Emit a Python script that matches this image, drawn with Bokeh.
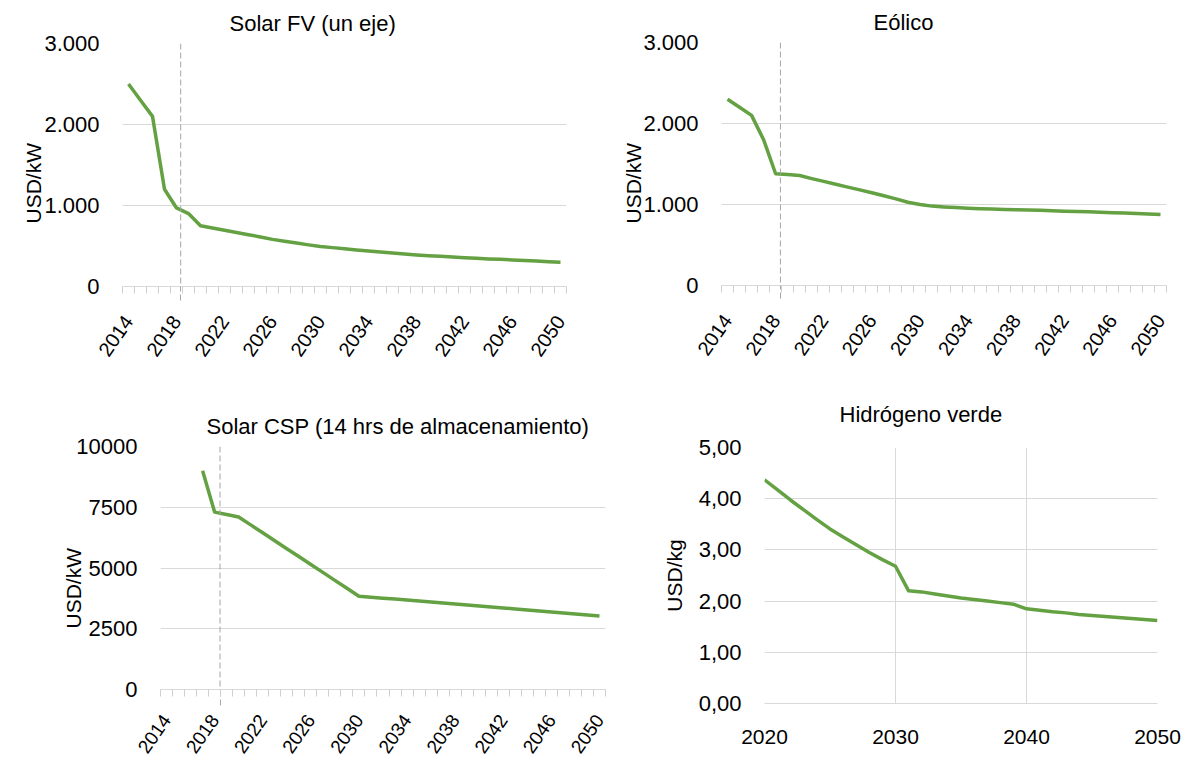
from math import pi
from bokeh.plotting import figure
from bokeh.layouts import column, row
from bokeh.models import FixedTicker, Range1d, Span, Title, LinearAxis
from bokeh.embed import file_html
from bokeh.resources import INLINE

# ---------------- data ----------------
years = list(range(2014, 2051))
solar_fv = [2500, 2300, 2100, 1200, 970, 900, 750, 722, 694, 666, 640, 612, 582, 558,
            536, 514, 495, 480, 466, 452, 438, 425, 413, 402, 390, 381, 372, 363, 355,
            348, 341, 335, 328, 321, 314, 307, 300]
eolico = [2300, 2200, 2100, 1800, 1380, 1370, 1358, 1320, 1285, 1250, 1215, 1180, 1145,
          1108, 1070, 1028, 1000, 980, 970, 962, 955, 948, 943, 938, 935, 933, 928, 922,
          917, 914, 910, 905, 899, 894, 889, 884, 878]
csp_years = list(range(2017, 2051))
csp = [9000, 7300, 7200, 7100, 6775, 6450, 6120, 5795, 5470, 5145, 4820, 4490, 4165,
       3840, 3800, 3760, 3720, 3680, 3640, 3600, 3555, 3515, 3475, 3435, 3395, 3355,
       3315, 3270, 3230, 3190, 3150, 3105, 3065, 3020]
h2_years = list(range(2020, 2051))
h2 = [4.37, 4.17, 3.97, 3.78, 3.59, 3.41, 3.25, 3.10, 2.95, 2.81, 2.68, 2.20, 2.18,
      2.14, 2.10, 2.06, 2.03, 2.00, 1.97, 1.94, 1.85, 1.82, 1.79, 1.77, 1.74, 1.72,
      1.70, 1.68, 1.66, 1.64, 1.62]

cat_tick_years = list(range(2014, 2051, 4))
cat_tick_labels = [str(y) for y in cat_tick_years]
kw_ticks = [0, 1000, 2000, 3000]
kw_labels = ["0", "1.000", "2.000", "3.000"]
csp_ticks = [0, 2500, 5000, 7500, 10000]
csp_labels = ["0", "2500", "5000", "7500", "10000"]
h2_yticks = [0, 1, 2, 3, 4, 5]
h2_ylabels = ["0,00", "1,00", "2,00", "3,00", "4,00", "5,00"]
h2_xticks = [2020, 2030, 2040, 2050]
h2_xlabels = ["2020", "2030", "2040", "2050"]
marker_year = [2018.35, 2018.4, 2018.45]

titles = ["Solar FV (un eje)", "Eólico", "Solar CSP (14 hrs de almacenamiento)", "Hidrógeno verde"]
ylabels = ["USD/kW", "USD/kW", "USD/kW", "USD/kg"]

# ---------------- style ----------------
FONT = "Liberation Sans"
GREEN = "#64A142"
GRID = "#d9d9d9"
DASH = "#a6a6a6"
TXT = "#000000"


def make_fig(w, h, bl, br, bt, bb, xr, yr):
    p = figure(width=w, height=h, x_range=xr, y_range=yr, output_backend="svg",
               toolbar_location=None, min_border_left=bl, min_border_right=br,
               min_border_top=bt, min_border_bottom=bb)
    try:
        p.frame_align = False
    except Exception:
        pass
    p.outline_line_color = None
    p.background_fill_color = "white"
    p.border_fill_color = "white"
    return p


def style_y(p, ticks, labels):
    ax = p.yaxis[0]
    ax.ticker = FixedTicker(ticks=ticks, minor_ticks=[])
    ax.major_label_overrides = dict(zip(ticks, labels))
    ax.axis_line_color = None
    ax.major_tick_line_color = None
    ax.minor_tick_line_color = None
    ax.major_tick_out = 0
    ax.major_tick_in = 0
    ax.major_label_standoff = 23
    ax.major_label_text_font = FONT
    ax.major_label_text_font_size = "22px"
    ax.major_label_text_color = TXT
    p.ygrid.ticker = FixedTicker(ticks=ticks, minor_ticks=[])
    p.ygrid.grid_line_color = GRID
    p.ygrid.grid_line_width = 1


def style_cat_x(p, xm, dash_out, offset, font_size):
    # axis 1: axis line, category boundary ticks, dashed marker tick
    ax = p.xaxis[0]
    minor = [y - 0.5 for y in years] + [years[-1] + 0.5]
    ax.ticker = FixedTicker(ticks=[xm], minor_ticks=minor)
    ax.major_label_overrides = {xm: ""}
    ax.axis_line_color = GRID
    ax.major_tick_line_color = DASH
    ax.major_tick_line_dash = "6 3"
    ax.major_tick_out = dash_out
    ax.major_tick_in = 0
    ax.minor_tick_line_color = "#cfcfcf"
    ax.minor_tick_out = 7
    ax.minor_tick_in = 0
    ax.major_label_standoff = 0
    ax.major_label_text_font_size = "0px"
    # axis 2: rotated year labels
    lab = LinearAxis(ticker=FixedTicker(ticks=cat_tick_years, minor_ticks=[]),
                     major_label_overrides=dict(zip(cat_tick_years, cat_tick_labels)),
                     axis_line_color=None, major_tick_line_color=None,
                     minor_tick_line_color=None, major_tick_out=0, major_tick_in=0,
                     major_label_orientation=0.96, major_label_standoff=offset - dash_out,
                     major_label_text_font=FONT, major_label_text_font_size=font_size,
                     major_label_text_color=TXT)
    p.add_layout(lab, "below")
    p.xgrid.visible = False
    p.add_layout(Span(location=xm, dimension="height", line_color=DASH,
                      line_width=1, line_dash="6 3"))


def add_texts(p, title, t_off, t_stand, ylab, l_align, l_off, l_stand):
    p.title.text = title
    p.title.align = "left"
    p.title.offset = t_off
    p.title.standoff = t_stand
    p.title.text_font = FONT
    p.title.text_font_size = "22px"
    p.title.text_font_style = "normal"
    p.title.text_color = TXT
    p.add_layout(Title(text=ylab, align=l_align, offset=l_off, standoff=l_stand,
                       text_font=FONT, text_font_size="21px", text_font_style="normal",
                       text_color=TXT), "left")


# ---- panel 1: Solar FV ----
p1 = make_fig(607, 370, 122, 41, 43, 84, Range1d(2013.5, 2050.5), Range1d(0, 3000))
style_y(p1, kw_ticks, kw_labels)
style_cat_x(p1, marker_year[0], 14, 31, "20px")
p1.line(years, solar_fv, line_color=GREEN, line_width=3.5, line_join="round")
add_texts(p1, titles[0], 107, 16, ylabels[0], "left", 63, -7)

# ---- panel 2: Eolico ----
p2 = make_fig(585, 370, 114, 26, 42, 85, Range1d(2013.5, 2050.5), Range1d(0, 3000))
style_y(p2, kw_ticks, kw_labels)
style_cat_x(p2, marker_year[1], 13, 31, "20px")
p2.line(years, eolico, line_color=GREEN, line_width=3.5, line_join="round")
add_texts(p2, titles[1], 152, 15, ylabels[1], "left", 62, -8)

# ---- panel 3: Solar CSP ----
p3 = make_fig(617, 392, 160, 12, 76, 73, Range1d(2013.5, 2050.5), Range1d(0, 10000))
style_y(p3, csp_ticks, csp_labels)
style_cat_x(p3, marker_year[2], 16, 27, "19px")
p3.line(csp_years, csp, line_color=GREEN, line_width=3.5, line_join="round")
add_texts(p3, titles[2], 46, 15, ylabels[2], "left", 61, -22)

# ---- panel 4: Hidrogeno verde ----
p4 = make_fig(575, 392, 147, 35, 77, 59, Range1d(2020, 2050), Range1d(0, 5))
style_y(p4, h2_yticks, h2_ylabels)
ax = p4.xaxis[0]
ax.ticker = FixedTicker(ticks=h2_xticks, minor_ticks=[])
ax.major_label_overrides = dict(zip(h2_xticks, h2_xlabels))
ax.axis_line_color = GRID
ax.major_tick_line_color = None
ax.minor_tick_line_color = None
ax.major_tick_out = 0
ax.major_tick_in = 0
ax.major_label_standoff = 26
ax.major_label_text_font = FONT
ax.major_label_text_font_size = "21px"
ax.major_label_text_color = TXT
p4.xgrid.ticker = FixedTicker(ticks=h2_xticks, minor_ticks=[])
p4.xgrid.grid_line_color = GRID
p4.line(h2_years, h2, line_color=GREEN, line_width=3.5, line_join="round")
add_texts(p4, titles[3], 75, 42, ylabels[3], "center", 0, 19)

layout = column(row(p1, p2), row(p3, p4))
open("out.html", "w").write(file_html(layout, INLINE))
